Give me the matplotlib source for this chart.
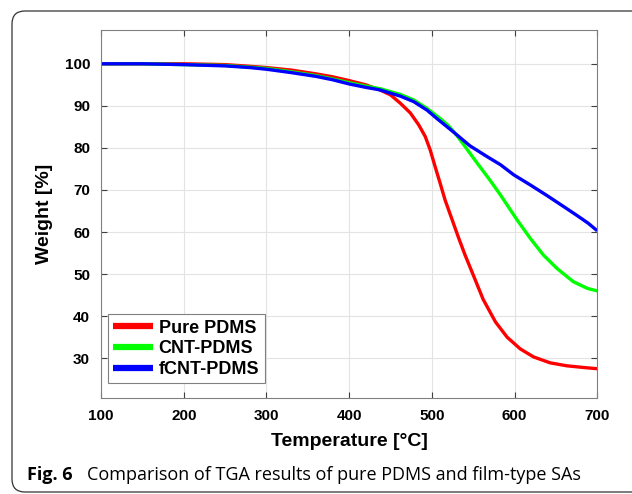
import matplotlib

matplotlib.use("Agg")

import matplotlib.pyplot as plt
from matplotlib.patches import FancyBboxPatch

# Values (temperature in degC, weight in %)
temp_pure = [100, 150, 200, 250, 280, 300, 330, 360, 380, 400, 420, 437, 450, 462, 474, 484, 492,
             498, 504, 510, 516, 524, 532, 540, 550, 562, 577, 591, 607, 623, 643, 663, 683, 700]
weight_pure = [100.0, 100.0, 100.0, 99.8, 99.4, 99.1, 98.5, 97.6, 96.9, 96.0, 95.0, 93.8, 92.6, 90.6,
               88.3, 85.5, 82.7, 79.5, 75.5, 71.6, 67.6, 63.2, 58.8, 54.6, 49.8, 44.0, 38.6, 35.0,
               32.2, 30.3, 28.9, 28.2, 27.8, 27.5]

temp_cnt = [100, 150, 200, 250, 280, 300, 330, 360, 380, 400, 420, 437, 462, 478, 494, 510, 520, 530,
            538, 554, 570, 583, 603, 619, 635, 651, 671, 688, 700]
weight_cnt = [100.0, 100.0, 99.8, 99.6, 99.2, 98.9, 98.1, 97.2, 96.4, 95.5, 94.7, 94.1, 92.7, 91.4,
              89.4, 87.0, 85.3, 83.0, 80.9, 76.6, 72.4, 68.8, 62.9, 58.5, 54.5, 51.4, 48.2, 46.6, 46.0]

temp_fcnt = [100, 150, 200, 250, 280, 300, 330, 360, 380, 400, 420, 437, 462, 478, 494, 506, 516, 526,
             546, 567, 583, 599, 619, 639, 659, 675, 689, 700]
weight_fcnt = [100.0, 100.0, 99.8, 99.5, 99.1, 98.7, 97.9, 97.0, 96.2, 95.2, 94.4, 93.8, 92.3, 91.0,
               89.0, 87.0, 85.4, 83.8, 80.5, 77.9, 76.0, 73.6, 71.2, 68.7, 66.1, 64.0, 62.1, 60.3]

series_names = ["Pure PDMS", "CNT-PDMS", "fCNT-PDMS"]
series_colors = ["#ff0000", "#00ff00", "#0000ff"]

x_ticks = [100, 200, 300, 400, 500, 600, 700]
y_ticks = [30, 40, 50, 60, 70, 80, 90, 100]

plt.rcParams["font.family"] = ["Liberation Sans", "DejaVu Sans"]

fig = plt.figure(figsize=(6.32, 4.94), dpi=100)
ax = fig.add_axes([0.160, 0.194, 0.785, 0.745])

for temps, weights, name, color in zip(
    [temp_pure, temp_cnt, temp_fcnt],
    [weight_pure, weight_cnt, weight_fcnt],
    series_names,
    series_colors,
):
    ax.plot(temps, weights, color=color, linewidth=2.4, label=name,
            solid_joinstyle="round", solid_capstyle="butt")

ax.set_xlim(100, 700)
ax.set_ylim(20.5, 108)
ax.set_xticks(x_ticks)
ax.set_yticks(y_ticks)
ax.tick_params(direction="in", top=True, right=True, length=4, width=0.8,
               color="#404040", labelsize=11, pad=8)
for label in ax.get_xticklabels() + ax.get_yticklabels():
    label.set_fontweight("bold")
ax.grid(True, color="#e3e3e3", linewidth=0.8)
ax.set_axisbelow(True)
for spine in ax.spines.values():
    spine.set_color("#808080")
    spine.set_linewidth(0.8)

ax.set_xlabel("Temperature [°C]", fontsize=14, fontweight="bold", labelpad=7)
ax.set_ylabel("Weight [%]", fontsize=14, fontweight="bold", labelpad=8)

legend = ax.legend(
    loc="lower left",
    bbox_to_anchor=(0.014, 0.04),
    prop={"weight": "bold", "size": 13},
    handlelength=2.2,
    handletextpad=0.3,
    labelspacing=0.2,
    borderpad=0.3,
    borderaxespad=0,
    fancybox=False,
    framealpha=1,
    edgecolor="#808080",
)
legend.get_frame().set_linewidth(0.8)
for handle in legend.get_lines():
    handle.set_linewidth(4.5)

# rounded figure frame around plot and caption (inches, so corners stay round)
frame = FancyBboxPatch(
    (0.12, 0.02), 6.4, 4.81,
    boxstyle="round,pad=0,rounding_size=0.13",
    transform=fig.dpi_scale_trans, facecolor="none", edgecolor="#333333",
    linewidth=0.9, clip_on=False,
)
fig.patches.append(frame)

fig.text(27 / 632, 1 - 475 / 494, "Fig. 6", fontsize=13, fontweight="bold",
         family=["Open Sans", "DejaVu Sans"], va="center", ha="left")
fig.text(87 / 632, 1 - 475 / 494, "Comparison of TGA results of pure PDMS and film-type SAs",
         fontsize=13, family=["Open Sans", "DejaVu Sans"], va="center", ha="left")

fig.savefig("out.png", dpi=100)
